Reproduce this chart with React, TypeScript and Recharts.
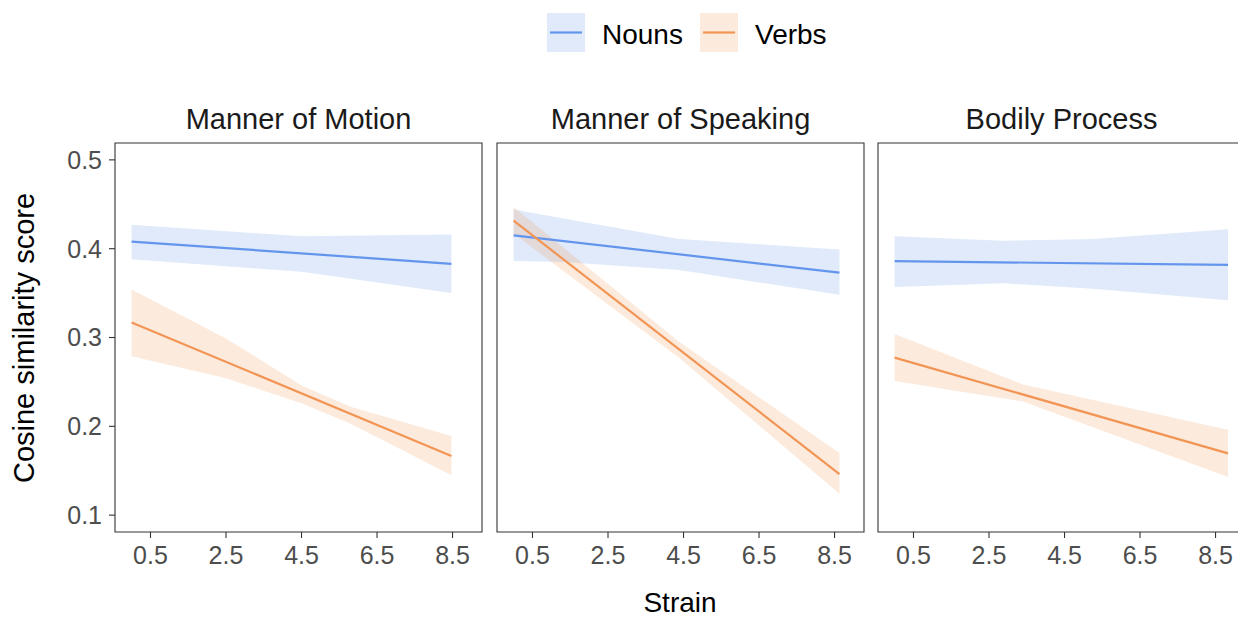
import { Area, ComposedChart, Line, ReferenceArea, XAxis, YAxis } from 'recharts';

// Predicted cosine similarity by strain, with confidence bands, faceted by verb class.

const FACETS = ['Manner of Motion', 'Manner of Speaking', 'Bodily Process'];
const STRAIN_TICKS = [0.5, 2.5, 4.5, 6.5, 8.5];
const SCORE_TICKS = [0.1, 0.2, 0.3, 0.4, 0.5];
const STRAIN_DOMAIN: [number, number] = [-0.44, 9.28];
const SCORE_DOMAIN: [number, number] = [0.081, 0.519];

// band knots (x, lower, upper) and fitted value at both ends of each line
const motionNouns = { x: [0, 4.5, 8.47], lo: [0.388, 0.374, 0.35], hi: [0.427, 0.414, 0.416], fit: [0.408, 0.383] };
const motionVerbs = {
  x: [0, 2.5, 4.5, 5.8, 8.47],
  lo: [0.279, 0.254, 0.226, 0.203, 0.145],
  hi: [0.354, 0.299, 0.246, 0.222, 0.189],
  fit: [0.317, 0.1665],
};
const speakingNouns = {
  x: [0, 1.32, 4.39, 8.63],
  lo: [0.386, 0.385, 0.376, 0.348],
  hi: [0.444, 0.434, 0.411, 0.399],
  fit: [0.415, 0.373],
};
const speakingVerbs = { x: [0, 4.39, 8.63], lo: [0.417, 0.277, 0.124], hi: [0.447, 0.295, 0.17], fit: [0.4316, 0.1462] };
const bodilyNouns = {
  x: [0, 2.87, 5.25, 8.83],
  lo: [0.357, 0.361, 0.355, 0.342],
  hi: [0.414, 0.409, 0.411, 0.422],
  fit: [0.386, 0.3817],
};
const bodilyVerbs = { x: [0, 3.4, 8.83], lo: [0.251, 0.228, 0.143], hi: [0.304, 0.247, 0.196], fit: [0.2773, 0.1695] };

const NOUN = '#6495ED';
const VERB = '#F29554';
const FONT = '"Liberation Sans", Arial, Helvetica, sans-serif';

type Group = { x: number[]; lo: number[]; hi: number[]; fit: number[] };

const bandRows = (g: Group) => g.x.map((s, i) => ({ strain: s, band: [g.lo[i], g.hi[i]] }));
const fitRows = (g: Group) => [
  { strain: g.x[0], fit: g.fit[0] },
  { strain: g.x[g.x.length - 1], fit: g.fit[1] },
];

const GROUPS: [Group, Group][] = [
  [motionNouns, motionVerbs],
  [speakingNouns, speakingVerbs],
  [bodilyNouns, bodilyVerbs],
];

const PLOT_TOP = 143;
const PLOT_H = 389;
const PLOT_W = 367;
const PANEL_LEFT = [115, 497, 878];
const Y_AXIS_W = 115;
const X_AXIS_H = 45;

function Facet({ index }: { index: number }) {
  const [nouns, verbs] = GROUPS[index];
  const first = index === 0;
  const left = first ? 0 : PANEL_LEFT[index] - 5;
  const width = (first ? Y_AXIS_W : 5) + PLOT_W + 5;
  const tick = { fill: '#4D4D4D', fontSize: 25, fontFamily: FONT };
  return (
    <div style={{ position: 'absolute', left, top: PLOT_TOP - 10 }}>
      <ComposedChart
        width={width}
        height={10 + PLOT_H + X_AXIS_H}
        margin={{ top: 10, right: 5, bottom: 0, left: first ? 0 : 5 }}
      >
        <XAxis
          type="number"
          dataKey="strain"
          domain={STRAIN_DOMAIN}
          ticks={STRAIN_TICKS}
          allowDataOverflow
          height={X_AXIS_H}
          axisLine={false}
          tickLine={{ stroke: '#333333', strokeWidth: 1.1 }}
          tickSize={6}
          tickMargin={8}
          tick={tick}
          tickFormatter={(v: number) => v.toFixed(1)}
        />
        <YAxis
          type="number"
          domain={SCORE_DOMAIN}
          ticks={SCORE_TICKS}
          allowDataOverflow
          hide={!first}
          width={Y_AXIS_W}
          axisLine={false}
          tickLine={{ stroke: '#333333', strokeWidth: 1.1 }}
          tickSize={6}
          tickMargin={7}
          tick={tick}
          tickFormatter={(v: number) => v.toFixed(1)}
        />
        <Area
          data={bandRows(nouns)}
          dataKey="band"
          type="linear"
          stroke="none"
          fill={NOUN}
          fillOpacity={0.2}
          isAnimationActive={false}
        />
        <Area
          data={bandRows(verbs)}
          dataKey="band"
          type="linear"
          stroke="none"
          fill={VERB}
          fillOpacity={0.2}
          isAnimationActive={false}
        />
        <Line
          data={fitRows(nouns)}
          dataKey="fit"
          type="linear"
          stroke={NOUN}
          strokeWidth={2.2}
          dot={false}
          isAnimationActive={false}
        />
        <Line
          data={fitRows(verbs)}
          dataKey="fit"
          type="linear"
          stroke={VERB}
          strokeWidth={2.2}
          dot={false}
          isAnimationActive={false}
        />
        <ReferenceArea
          x1={STRAIN_DOMAIN[0]}
          x2={STRAIN_DOMAIN[1]}
          y1={SCORE_DOMAIN[0]}
          y2={SCORE_DOMAIN[1]}
          fill="none"
          fillOpacity={0}
          stroke="#333333"
          strokeWidth={1.1}
          ifOverflow="visible"
        />
      </ComposedChart>
    </div>
  );
}

function LegendKey({ x, color, label }: { x: number; color: string; label: string }) {
  return (
    <g>
      <rect x={x} y={13} width={38} height={39} fill={color} fillOpacity={0.2} />
      <line x1={x + 3} x2={x + 35} y1={32.5} y2={32.5} stroke={color} strokeWidth={2.2} />
      <text x={x + 55} y={44} fontSize={28} fill="#000">
        {label}
      </text>
    </g>
  );
}

export default function App() {
  return (
    <div
      style={{
        position: 'fixed',
        left: 0,
        top: 0,
        width: 1238,
        height: 618,
        overflow: 'hidden',
        background: '#fff',
        fontFamily: FONT,
      }}
    >
      <svg width={1238} height={618} style={{ position: 'absolute', left: 0, top: 0 }} fontFamily={FONT}>
        <LegendKey x={547} color={NOUN} label="Nouns" />
        <LegendKey x={700} color={VERB} label="Verbs" />
        {FACETS.map((name, i) => (
          <text key={name} x={PANEL_LEFT[i] + PLOT_W / 2} y={129} fontSize={29} textAnchor="middle" fill="#1A1A1A">
            {name}
          </text>
        ))}
        <text x={680} y={612} fontSize={28} textAnchor="middle" fill="#000">
          Strain
        </text>
        <text
          x={34}
          y={338}
          fontSize={29}
          textAnchor="middle"
          fill="#000"
          transform="rotate(-90, 34, 338)"
        >
          Cosine similarity score
        </text>
      </svg>
      {FACETS.map((name, i) => (
        <Facet key={name} index={i} />
      ))}
    </div>
  );
}
